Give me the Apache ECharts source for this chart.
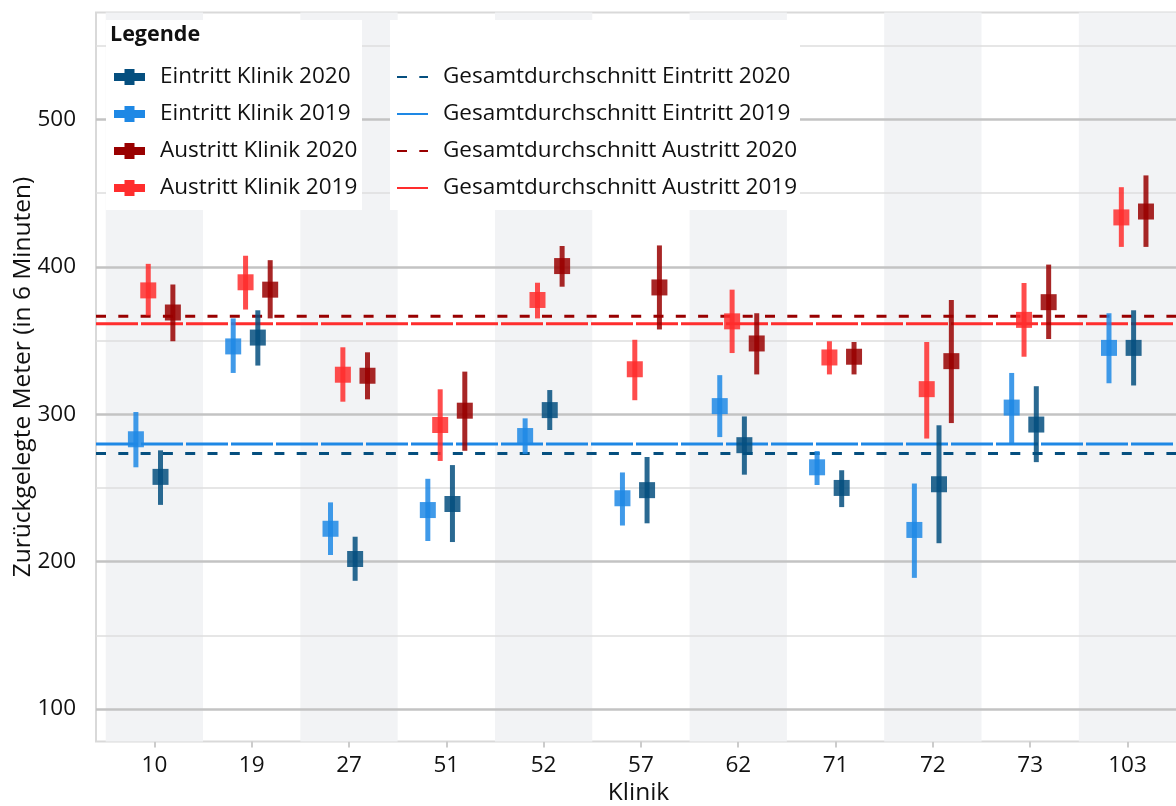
<!DOCTYPE html>
<html>

<head>
    <meta charset="utf-8">
    <title></title>
    <script src="https://cdn.jsdelivr.net/npm/echarts@6/dist/echarts.min.js"></script>
    <style>
        html, body { margin: 0; padding: 0; background: #fff; }
    </style>
</head>

<body>
    <div id="container" style="width: 1176px;height:806px;"></div>
</body>
<script type="text/javascript">
    var kliniken = ['10', '19', '27', '51', '52', '57', '62', '71', '72', '73', '103'];

    // Eintritt 2019
    var ein19 = [283, 346, 222.3, 235, 285.2, 243, 305.5, 264, 221.5, 304.5, 345];
    var ein19Lo = [264, 328, 204.5, 214, 273, 224.5, 284.5, 252, 189, 280.5, 321];
    var ein19Hi = [301.5, 365, 240.2, 256.2, 297.2, 260.5, 326.5, 275, 253, 328, 368.5];
    // Austritt 2019
    var aus19 = [384, 389.5, 326.8, 292.7, 377.5, 330.5, 363, 338.5, 317, 364, 433.5];
    var aus19Lo = [367, 371, 308.5, 268.3, 365, 309.5, 341.5, 327, 283.5, 339, 413.5];
    var aus19Hi = [402, 407.5, 345.4, 316.9, 389.2, 350.5, 384.5, 349.5, 349, 389, 454];
    // Eintritt 2020
    var ein20 = [257.5, 352, 201.8, 239.1, 302.8, 248.5, 279, 250, 252.5, 293, 345];
    var ein20Lo = [238.5, 333, 187, 213.3, 289.3, 226, 259, 237, 212.5, 267.5, 319.5];
    var ein20Hi = [275.5, 370.5, 216.9, 265.5, 316.4, 271, 298.5, 262, 292.5, 319, 370.5];
    // Austritt 2020
    var aus20 = [369, 384.5, 326.1, 302.4, 400.5, 386, 348, 339, 336, 376, 437.5];
    var aus20Lo = [349.5, 365, 310.1, 275.2, 386.5, 357.5, 327, 327, 294, 351, 413.5];
    var aus20Hi = [388, 404.5, 342, 328.9, 414.1, 414.5, 368.5, 349, 377.5, 401.5, 462];

    // Gesamtdurchschnitte
    var meanEin20 = 273.3;
    var meanEin19 = 279.8;
    var meanAus20 = 366.5;
    var meanAus19 = 361.4;

    var yTicks = [100, 200, 300, 400, 500];
    var yMinor = [150, 250, 350, 450, 550];

    var xMin = -0.6, xMax = 10.55;
    var font = 'Open Sans';
    var fs = 22.5;
    var fsName = 24.5;

    var cEin20 = '#054f7f', cEin19 = '#1e88e5', cAus20 = '#990000', cAus19 = '#ff2d2d';
    var crossIcon = 'path://M0,4H10.5V0H20.5V4H31V12H20.5V16H10.5V12H0Z';

    function build(mean, lo, hi) {
        var out = [];
        for (var i = 0; i < mean.length; i++) {
            out.push([i, mean[i], lo[i], hi[i]]);
        }
        return out;
    }

    function pointRange(color, offset) {
        return function (params, api) {
            var x = api.value(0) + offset;
            var m = api.coord([x, api.value(1)]);
            var lo = api.coord([x, api.value(2)]);
            var hi = api.coord([x, api.value(3)]);
            return {
                type: 'group',
                children: [{
                    type: 'rect',
                    shape: { x: m[0] - 2.5, y: hi[1], width: 5, height: lo[1] - hi[1] },
                    style: { fill: color, opacity: 0.85 }
                }, {
                    type: 'rect',
                    shape: { x: m[0] - 8, y: m[1] - 8, width: 16, height: 16 },
                    style: { fill: color, opacity: 0.85 }
                }]
            };
        };
    }

    function prSeries(name, color, offset, data) {
        return {
            name: name,
            type: 'custom',
            renderItem: pointRange(color, offset),
            itemStyle: { color: color },
            data: data,
            z: 5,
            silent: true
        };
    }

    function meanSeries(name, color, value, dash) {
        return {
            name: name,
            type: 'line',
            data: [[xMin, value], [xMax, value]],
            symbol: 'none',
            itemStyle: { color: color },
            lineStyle: { color: color, width: 3, type: dash },
            z: 4,
            silent: true
        };
    }

    var bands = [];
    for (var i = 0; i < kliniken.length; i += 2) {
        bands.push([{ xAxis: i - 0.5 }, { xAxis: i + 0.5 }]);
    }
    var gridLines = [];
    yMinor.forEach(function (v) {
        gridLines.push({ yAxis: v, lineStyle: { color: '#dedede', width: 1.5, type: 'solid' } });
    });
    yTicks.forEach(function (v) {
        gridLines.push({ yAxis: v, lineStyle: { color: '#c3c3c3', width: 2.5, type: 'solid' } });
    });

    var dom = document.getElementById("container");
    var myChart = echarts.init(dom);
    var option = {
        animation: false,
        textStyle: { fontFamily: font },
        grid: {
            left: 96,
            right: -5,
            top: 12.5,
            bottom: 64.5,
            outerBoundsMode: 'none',
            containLabel: false,
            show: true,
            borderColor: '#d9d9d9',
            borderWidth: 2
        },
        graphic: [{
            type: 'rect',
            z: 10,
            shape: { x: 106, y: 20, width: 256, height: 190 },
            style: { fill: '#fff' }
        }, {
            type: 'rect',
            z: 10,
            shape: { x: 390, y: 20, width: 410, height: 190 },
            style: { fill: '#fff' }
        }, {
            type: 'text',
            z: 11,
            left: 110,
            top: 24,
            style: { text: 'Legende', fontFamily: font, fontSize: fs - 1, fontWeight: 'bold', fill: '#111' }
        }],
        legend: [{
            z: 20,
            orient: 'vertical',
            left: 114,
            top: 65.5,
            padding: 0,
            itemWidth: 31,
            itemHeight: 16,
            itemGap: 14,
            selectedMode: false,
            textStyle: { fontFamily: font, fontSize: fs, color: '#111', padding: [0, 0, 0, 10] },
            data: [
                { name: 'Eintritt Klinik 2020', icon: crossIcon },
                { name: 'Eintritt Klinik 2019', icon: crossIcon },
                { name: 'Austritt Klinik 2020', icon: crossIcon },
                { name: 'Austritt Klinik 2019', icon: crossIcon }
            ]
        }, {
            z: 20,
            orient: 'vertical',
            left: 396,
            top: 65.5,
            padding: 0,
            itemWidth: 31,
            itemHeight: 16,
            itemGap: 14,
            selectedMode: false,
            itemStyle: { color: 'transparent', borderWidth: 0 },
            textStyle: { fontFamily: font, fontSize: fs, color: '#111', padding: [0, 0, 0, 10] },
            data: [
                'Gesamtdurchschnitt Eintritt 2020',
                'Gesamtdurchschnitt Eintritt 2019',
                'Gesamtdurchschnitt Austritt 2020',
                'Gesamtdurchschnitt Austritt 2019'
            ]
        }],
        xAxis: {
            type: 'value',
            min: xMin,
            max: xMax,
            name: 'Klinik',
            nameLocation: 'middle',
            nameGap: 39,
            nameMoveOverlap: false,
            nameTextStyle: { fontFamily: font, fontSize: fsName, color: '#111' },
            splitLine: { show: false },
            axisLine: { show: false },
            axisTick: {
                show: true,
                length: 6,
                customValues: kliniken.map(function (k, i) { return i; }),
                lineStyle: { color: '#cccccc', width: 2 }
            },
            axisLabel: {
                margin: 13,
                fontFamily: font,
                fontSize: fs,
                color: '#111',
                customValues: kliniken.map(function (k, i) { return i; }),
                formatter: function (v) { return kliniken[Math.round(v)]; }
            }
        },
        yAxis: {
            type: 'value',
            min: 78,
            max: 572.5,
            name: 'Zurückgelegte Meter (in 6 Minuten)',
            nameLocation: 'middle',
            nameGap: 60,
            nameMoveOverlap: false,
            nameTextStyle: { fontFamily: font, fontSize: fsName, color: '#111' },
            splitLine: { show: false },
            axisLine: { show: false },
            axisTick: {
                show: true,
                length: 6,
                customValues: yTicks,
                lineStyle: { color: '#cccccc', width: 2 }
            },
            axisLabel: {
                margin: 20,
                fontFamily: font,
                fontSize: fs,
                color: '#111',
                customValues: yTicks
            }
        },
        series: [{
            name: 'hintergrund',
            type: 'line',
            data: [],
            z: 1,
            silent: true,
            markArea: {
                silent: true,
                itemStyle: { color: '#f2f3f5' },
                data: bands
            },
            markLine: {
                silent: true,
                symbol: 'none',
                label: { show: false },
                animation: false,
                data: gridLines
            }
        },
            meanSeries('Gesamtdurchschnitt Eintritt 2020', cEin20, meanEin20, [10, 12.3]),
            meanSeries('Gesamtdurchschnitt Eintritt 2019', cEin19, meanEin19, [42, 3]),
            meanSeries('Gesamtdurchschnitt Austritt 2020', cAus20, meanAus20, [10, 12.3]),
            meanSeries('Gesamtdurchschnitt Austritt 2019', cAus19, meanAus19, [42, 3]),
            prSeries('Eintritt Klinik 2019', cEin19, -0.19, build(ein19, ein19Lo, ein19Hi)),
            prSeries('Austritt Klinik 2019', cAus19, -0.063, build(aus19, aus19Lo, aus19Hi)),
            prSeries('Eintritt Klinik 2020', cEin20, 0.063, build(ein20, ein20Lo, ein20Hi)),
            prSeries('Austritt Klinik 2020', cAus20, 0.19, build(aus20, aus20Lo, aus20Hi))
        ]
    };
    myChart.setOption(option, true);
</script>

</html>
